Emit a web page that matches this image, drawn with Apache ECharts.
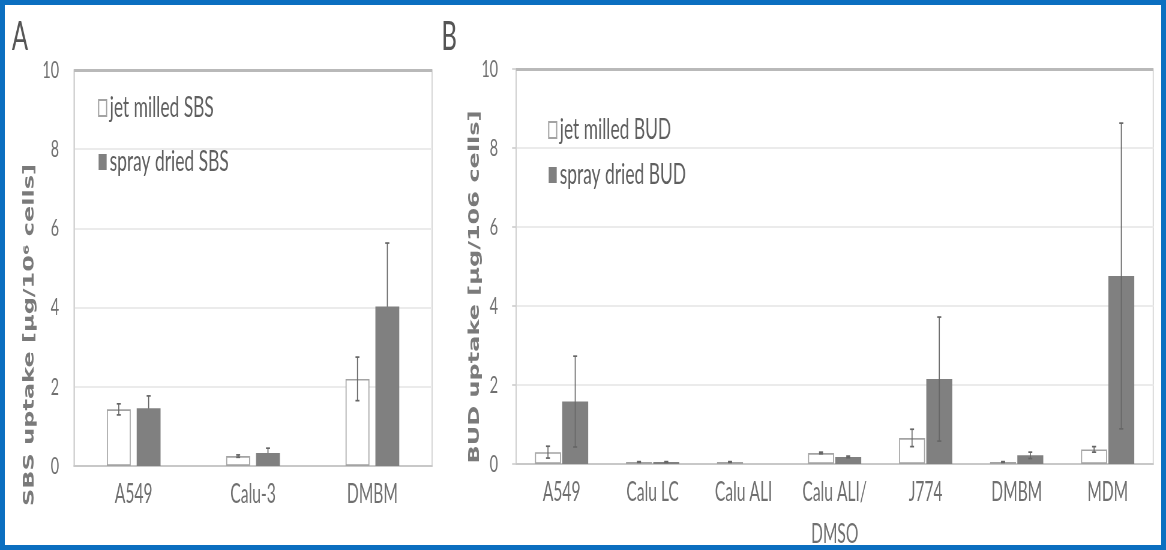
<!DOCTYPE html>
<html>
<head>
<meta charset="utf-8">
<script src="https://cdn.jsdelivr.net/npm/echarts@6/dist/echarts.min.js"></script>
<style>
html,body{margin:0;padding:0;overflow:hidden;background:#fff;width:1166px;height:550px;}
#chart{position:absolute;left:0;top:0;height:550px;transform-origin:0 0;}
#frame{position:absolute;left:0;top:0;width:1166px;height:550px;box-sizing:border-box;border:5px solid #0b6fc0;pointer-events:none;}
</style>
</head>
<body>
<div id="chart"></div>
<div id="frame"></div>
<script>
// ---- data ----
const catsA = ['A549', 'Calu-3', 'DMBM'];
const jetA = [1.43, 0.25, 2.2];
const jetAErr = [0.14, 0.03, 0.55];
const sprayA = [1.46, 0.33, 4.03];
const sprayAErr = [0.31, 0.12, 1.6];

const catsB = ['A549', 'Calu LC', 'Calu ALI', 'Calu ALI/\nDMSO', 'J774', 'DMBM', 'MDM'];
const jetB = [0.3, 0.05, 0.05, 0.28, 0.66, 0.05, 0.37];
const jetBErr = [0.15, 0.01, 0.01, 0.02, 0.22, 0.01, 0.07];
const sprayB = [1.58, 0.05, 0, 0.18, 2.15, 0.22, 4.76];
const sprayBErr = [1.15, 0.01, 0, 0.02, 1.57, 0.08, 3.87];

const yMin = 0, yMax = 10, yStep = 2;
const namesA = ['jet milled SBS', 'spray dried SBS'];
const namesB = ['jet milled BUD', 'spray dried BUD'];
const titleA = 'SBS uptake [μg/10⁶ cells]';
const titleB = 'BUD uptake [μg/106 cells]';

// ---- layout (the figure is horizontally squeezed, reproduce with scaleX) ----
const SX = 0.6;
const W = Math.round(1166 / SX);
const X = r => r / SX;
const el = document.getElementById('chart');
el.style.width = W + 'px';
el.style.transform = 'scaleX(' + (1166 / W) + ')';

const GREY = '#707070';
const FONT = 'Lato';

function errRender(pct, gapPct, idx) {
  return function (params, api) {
    const ci = api.value(0), v = api.value(1), e = api.value(2);
    if (!e) return null;
    const band = api.size([1, 0])[0];
    const bw = band * pct, gap = bw * gapPct;
    const total = 2 * bw + gap;
    const off = -total / 2 + bw / 2 + idx * (bw + gap);
    const top = api.coord([ci, v + e]);
    const bot = api.coord([ci, Math.max(v - e, 0)]);
    const x = top[0] + off;
    const c = X(2);
    const st = { stroke: '#666', lineWidth: 1.7 };
    return {
      type: 'group', children: [
        { type: 'line', shape: { x1: x, y1: top[1], x2: x, y2: bot[1] }, style: st },
        { type: 'line', shape: { x1: x - c, y1: top[1], x2: x + c, y2: top[1] }, style: st },
        { type: 'line', shape: { x1: x - c, y1: bot[1], x2: x + c, y2: bot[1] }, style: st }
      ]
    };
  };
}

function panelSeries(idx, names, jet, jetErr, spray, sprayErr, pct, gapPct, sprayErrZ) {
  const bw = (pct * 100) + '%', bg = (gapPct * 100) + '%';
  return [
    {
      type: 'bar', name: names[0], xAxisIndex: idx, yAxisIndex: idx, data: jet,
      barWidth: bw, barGap: bg, silent: true, z: 2,
      itemStyle: { color: '#ffffff', borderColor: '#a3a3a3', borderWidth: 1.7 }
    },
    {
      type: 'bar', name: names[1], xAxisIndex: idx, yAxisIndex: idx, data: spray,
      barWidth: bw, barGap: bg, silent: true, z: 2,
      itemStyle: { color: '#808080' },
      markLine: {
        silent: true, symbol: ['none', 'none'], label: { show: false },
        lineStyle: { color: '#b9b9b9', width: 3, type: 'solid' },
        data: [{ yAxis: yMax }]
      }
    },
    {
      type: 'custom', xAxisIndex: idx, yAxisIndex: idx, silent: true, z: 5,
      renderItem: errRender(pct, gapPct, 0),
      data: jet.map((v, i) => [i, v, jetErr[i]])
    },
    {
      type: 'custom', xAxisIndex: idx, yAxisIndex: idx, silent: true, z: sprayErrZ,
      renderItem: errRender(pct, gapPct, 1),
      data: spray.map((v, i) => [i, v, sprayErr[i]])
    }
  ];
}

function xAxis(idx, cats) {
  return {
    type: 'category', gridIndex: idx, data: cats,
    axisLine: { lineStyle: { color: '#c8c8c8', width: 2 } },
    axisTick: { show: false },
    axisLabel: { color: GREY, fontFamily: FONT, fontSize: 26, margin: 8, lineHeight: 42, interval: 0 },
    splitLine: { show: false }
  };
}
function yAxis(idx, margin, ticks) {
  return {
    type: 'value', gridIndex: idx, min: yMin, max: yMax, interval: yStep,
    axisLine: { show: true, lineStyle: { color: '#d0d0d0', width: 1.7 } },
    axisTick: { show: ticks, length: X(4), lineStyle: { color: '#cfcfcf', width: 1.7 } },
    axisLabel: { color: GREY, fontFamily: FONT, fontSize: 24, margin: margin },
    splitLine: { lineStyle: { color: '#ebebeb', width: 2 } }
  };
}

const option = {
  animation: false,
  backgroundColor: '#ffffff',
  grid: [
    { left: X(74), top: 70, width: X(358), height: 396, show: true, borderColor: '#d0d0d0', borderWidth: 1.7, outerBoundsMode: 'none' },
    { left: X(516), top: 69, width: X(637), height: 395, show: true, borderColor: '#d0d0d0', borderWidth: 1.7, outerBoundsMode: 'none' }
  ],
  xAxis: [xAxis(0, catsA), xAxis(1, catsB)],
  yAxis: [yAxis(0, X(15), false), yAxis(1, X(18), true)],
  legend: [
    {
      orient: 'vertical', left: X(95), top: 88, itemWidth: X(8), itemHeight: 16, itemGap: 24,
      icon: 'rect', selectedMode: false, data: namesA,
      textStyle: { fontFamily: FONT, fontSize: 29, color: '#5f5f5f', lineHeight: 30 }
    },
    {
      orient: 'vertical', left: X(545), top: 110, itemWidth: X(8), itemHeight: 16, itemGap: 15,
      icon: 'rect', selectedMode: false, data: namesB,
      textStyle: { fontFamily: FONT, fontSize: 29, color: '#5f5f5f', lineHeight: 30 }
    }
  ],
  graphic: [
    { type: 'text', x: X(20), y: 37, style: { text: 'A', fontSize: 40, fontFamily: FONT, fill: '#555', align: 'center', verticalAlign: 'middle' } },
    { type: 'text', x: X(449), y: 37, style: { text: 'B', fontSize: 40, fontFamily: FONT, fill: '#555', align: 'center', verticalAlign: 'middle' } },
    { type: 'text', x: X(30), y: 335, rotation: Math.PI / 2, style: { text: titleA, fontSize: 24, fontFamily: 'DejaVu Sans', fontWeight: 'bold', fill: '#7a7a7a', align: 'center', verticalAlign: 'middle' } },
    { type: 'text', x: X(475), y: 287, rotation: Math.PI / 2, style: { text: titleB, fontSize: 24, fontFamily: 'DejaVu Sans', fontWeight: 'bold', fill: '#7a7a7a', align: 'center', verticalAlign: 'middle' } }
  ],
  series: [].concat(
    panelSeries(0, namesA, jetA, jetAErr, sprayA, sprayAErr, 0.20, 0.25, 1),
    panelSeries(1, namesB, jetB, jetBErr, sprayB, sprayBErr, 0.285, 0.05, 5)
  )
};

const chart = echarts.init(el, null, { renderer: 'canvas' });
chart.setOption(option);
</script>
</body>
</html>
